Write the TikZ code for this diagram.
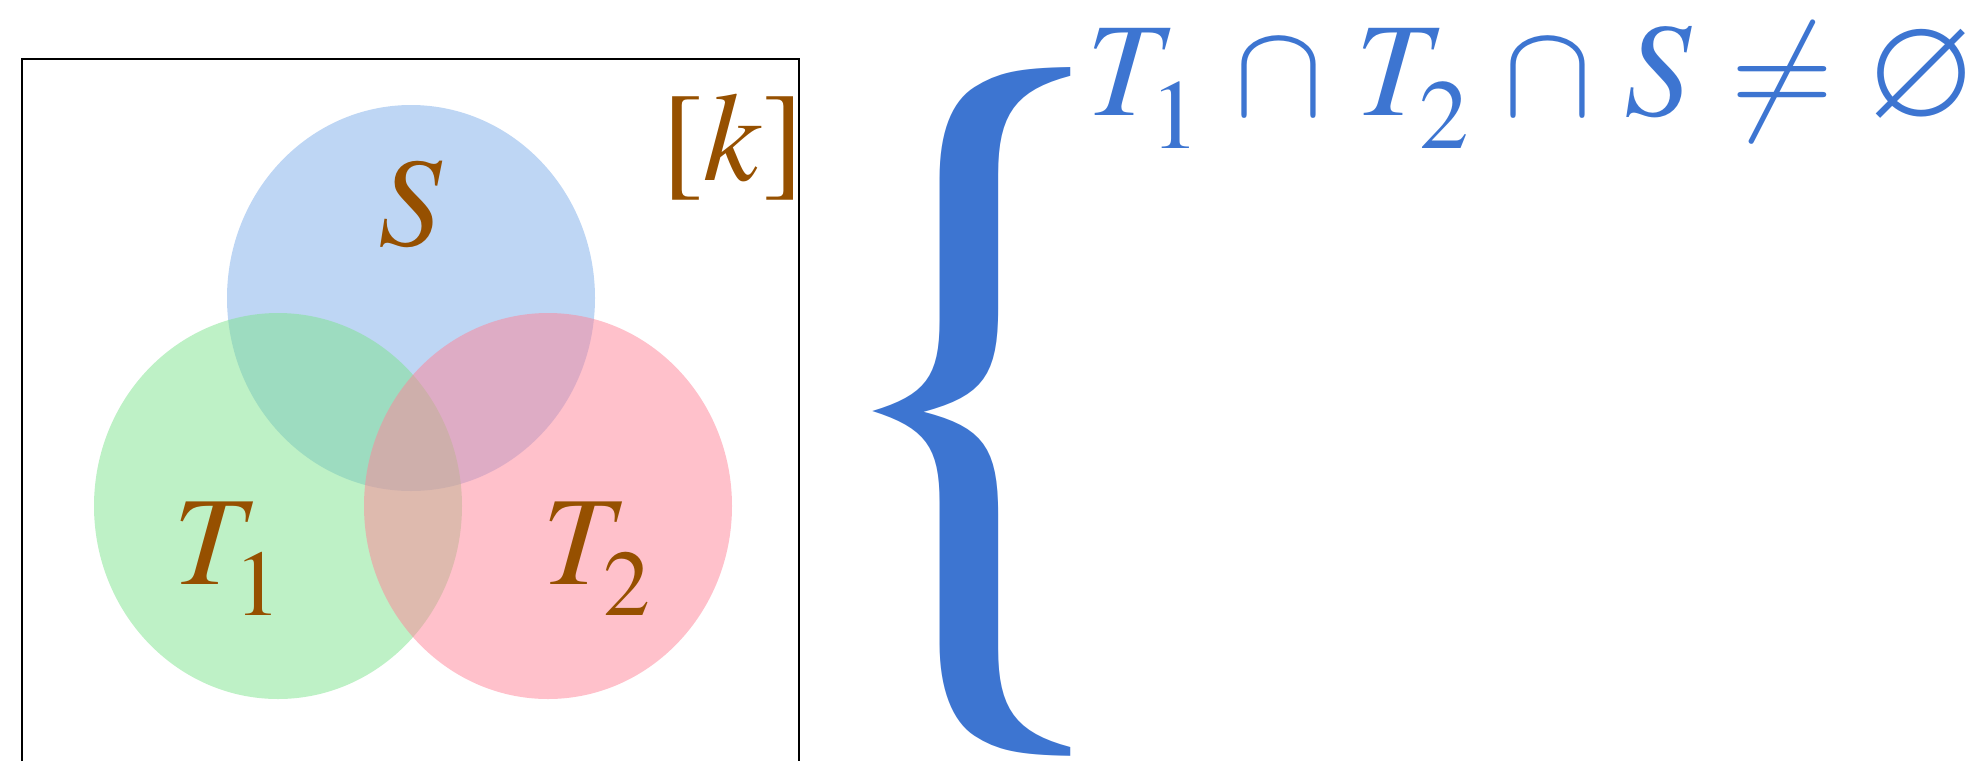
\documentclass[tikz,border=0pt]{standalone}
\usepackage[T1]{fontenc}
\usepackage{mathptmx}
\usepackage{pifont}
\usepackage{graphicx}
\usepackage{xcolor}
\usepackage{tikz}
\usetikzlibrary{positioning,shapes.geometric}

\definecolor{labbrown}{RGB}{150,80,0}
\definecolor{eqblue}{RGB}{61,117,209}
\definecolor{setS}{RGB}{125,173,233}
\definecolor{setA}{RGB}{125,227,141}
\definecolor{setB}{RGB}{255,131,151}

% round empty set and a lowered index
\newcommand{\opempty}{\mbox{\scalebox{0.9}{\Pisymbol{psy}{198}}}}
\newcommand{\idx}[1]{_{\lower0.1em\hbox{$\scriptstyle #1$}}}

\begin{document}
\begin{tikzpicture}[
  x=0.1mm, y=-0.1mm,
  set/.style   = {ellipse, minimum width=36.8mm, minimum height=38.6mm,
                  inner sep=0pt, fill opacity=0.5},
  lab/.style   = {text=labbrown, inner sep=0pt, anchor=base,
                  font=\fontsize{36}{42}\selectfont},
  eq/.style    = {text=eqblue, inner sep=0pt, anchor=base west,
                  font=\fontsize{38}{44}\selectfont},
]
\useasboundingbox (0,0) rectangle (1967,761);

% ---------- universe ----------
\coordinate (ubl) at (22,761);
\coordinate (utr) at (799,59);
\coordinate (ubr) at (799,761);
\draw[line width=0.6pt] (ubl) |- (utr) -- (ubr);
\node[lab] (univ) at (733,180) {[$k$]};

% ---------- sets ----------
\node[set, fill=setS] (S)  at (411,298) {};
\node[set, fill=setA] (T1) at (278,506) {};
\node[set, fill=setB] (T2) at (548,506) {};

\node[lab] (labS)  at (411,245) {$S$};
\node[lab] (labT1) at (228,584) {$T\idx{1}$};
\node[lab] (labT2) at (597,584) {$T\idx{2}$};

% ---------- condition ----------
\node[inner sep=0pt, text=eqblue, anchor=south west] (brace) at (793,755)
      {\resizebox*{38mm}{68.5mm}{\{}};
\node[eq] (cond) at (1086,115)
      {$\medmuskip=4.35mu \thickmuskip=5.1mu
        T\idx{1}\cap T\idx{2}\cap S\neq\opempty$};

\end{tikzpicture}
\end{document}
